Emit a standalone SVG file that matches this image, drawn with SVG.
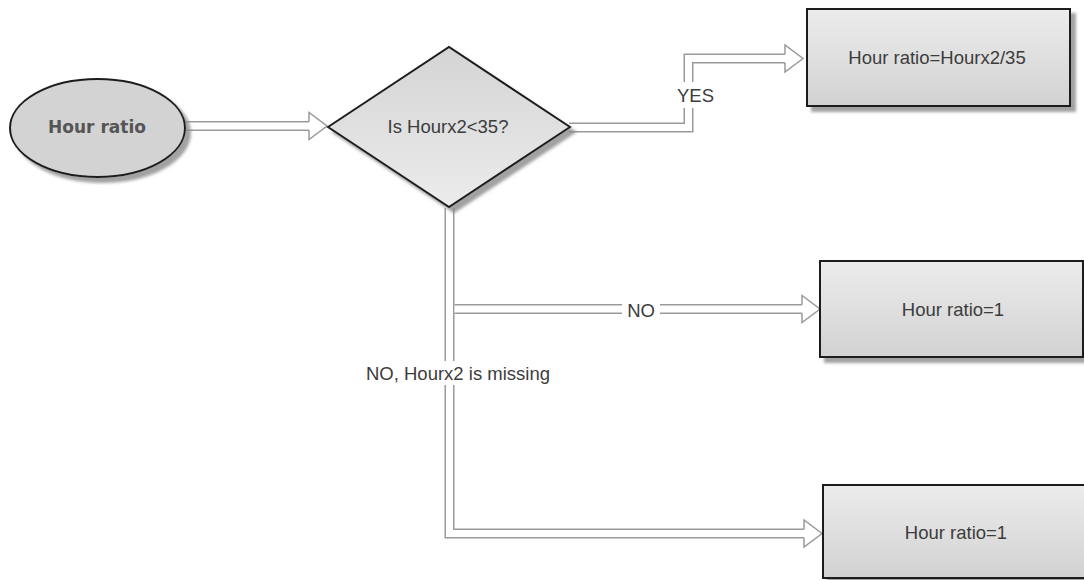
<svg xmlns="http://www.w3.org/2000/svg" width="1084" height="580" viewBox="0 0 1084 580">
<defs>
<linearGradient id="gBox" x1="0" y1="0" x2="0" y2="1">
<stop offset="0" stop-color="#ececec"/><stop offset="1" stop-color="#d2d2d2"/>
</linearGradient>
<linearGradient id="gDia" x1="0" y1="0" x2="0" y2="1">
<stop offset="0" stop-color="#d4d4d4"/><stop offset="1" stop-color="#ececec"/>
</linearGradient>
<filter id="sh" x="-10%" y="-10%" width="130%" height="130%">
<feDropShadow dx="5" dy="5" stdDeviation="1.5" flood-color="#8a8a8a" flood-opacity="0.8"/>
</filter>
<marker id="ah" markerUnits="userSpaceOnUse" markerWidth="20" markerHeight="30" refX="0" refY="14" orient="auto" overflow="visible">
<path d="M0,9.75 L0,0.5 L18,14 L0,27.5 L0,18.25" fill="#fff" stroke="#9a9a9a" stroke-width="1.5" stroke-linejoin="miter"/>
</marker>
</defs>
<style>
.node{stroke:#1e1e1e;stroke-width:2}
.txt{font-family:"Liberation Sans",Arial,sans-serif;font-size:18.5px;fill:#3c3c3c;text-anchor:middle;dominant-baseline:central}
.lbl{font-family:"Liberation Sans",Arial,sans-serif;font-size:18.5px;fill:#3c3c3c;text-anchor:middle;dominant-baseline:central}
.outer{fill:none;stroke:#9a9a9a;stroke-width:10;stroke-linejoin:miter}
.inner{fill:none;stroke:#fff;stroke-width:7;stroke-linejoin:miter}
.bg{fill:#fff}
</style>
<rect width="1084" height="580" fill="#fff"/>

<g id="connectors">
<path class="outer" d="M185,126 H309"/>
<path class="inner" d="M185,126 H309" marker-end="url(#ah)"/>
<path class="outer" d="M569,127.5 H688.5 V58.5 H785"/>
<path class="inner" d="M569,127.5 H688.5 V58.5 H785" marker-end="url(#ah)"/>
<path class="outer" d="M449.5,208 V533.5 H804"/>
<path class="inner" d="M449.5,208 V533.5 H804" marker-end="url(#ah)"/>
<path class="outer" d="M454.5,309 H802"/>
<path class="inner" d="M454.5,309 H802" marker-end="url(#ah)"/>
<rect class="bg" x="676" y="82" width="40" height="26"/>
<text class="lbl" x="695.5" y="95">YES</text>
<rect class="bg" x="622" y="298" width="38" height="24"/>
<text class="lbl" x="641" y="310">NO</text>
<rect class="bg" x="360" y="361" width="197" height="24"/>
<text class="lbl" x="458" y="373">NO, Hourx2 is missing</text>
</g>

<g id="start">
<ellipse class="node" cx="97.5" cy="128" rx="87.5" ry="49" fill="#d3d3d3" filter="url(#sh)"/>
<text x="97" y="127" style="font-family:'DejaVu Sans',Verdana,sans-serif;font-size:17px;font-weight:bold;fill:#555;text-anchor:middle;dominant-baseline:central">Hour ratio</text>
</g>

<g id="decision">
<polygon class="node" points="328,127 449,47 570,127 449,207" fill="url(#gDia)" filter="url(#sh)"/>
<text class="txt" x="448" y="126">Is Hourx2&lt;35?</text>
</g>

<g id="box-yes">
<rect class="node" x="807" y="9" width="263" height="97" fill="url(#gBox)" filter="url(#sh)"/>
<text class="txt" x="937" y="57">Hour ratio=Hourx2/35</text>
</g>

<g id="box-no">
<rect class="node" x="820" y="261" width="263" height="96" fill="url(#gBox)" filter="url(#sh)"/>
<text class="txt" x="953" y="309">Hour ratio=1</text>
</g>

<g id="box-missing">
<rect class="node" x="823" y="485" width="263" height="93" fill="url(#gBox)" filter="url(#sh)"/>
<text class="txt" x="956" y="532">Hour ratio=1</text>
</g>
</svg>
